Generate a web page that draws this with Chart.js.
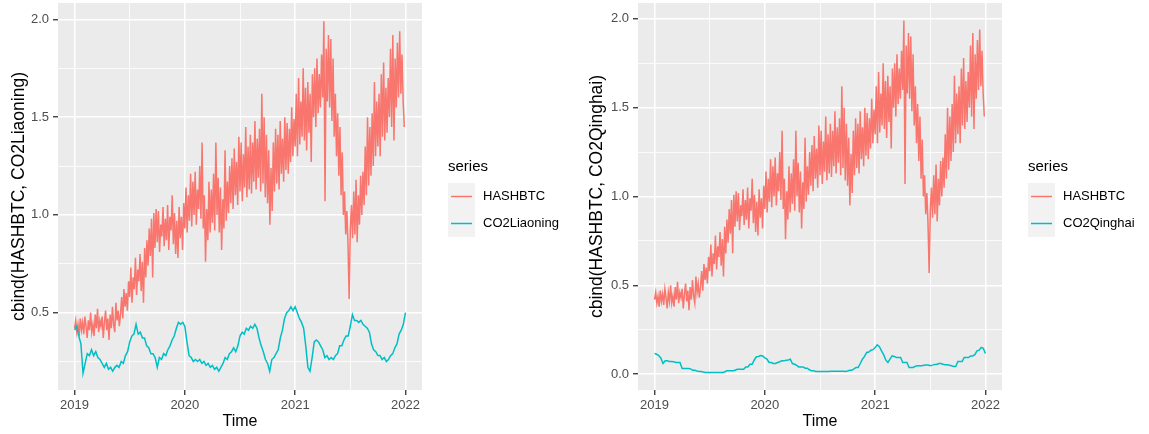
<!DOCTYPE html>
<html>
<head>
<meta charset="utf-8">
<script src="https://cdn.jsdelivr.net/npm/chart.js@4.4.1/dist/chart.umd.min.js"></script>
<style>
  html, body { margin: 0; padding: 0; background: #ffffff; overflow: hidden; }
  #wrap { position: relative; width: 1149px; height: 434px; }
  canvas { position: absolute; top: 0; }
  #left { left: 0; }
  #right { left: 574px; }
</style>
</head>
<body>
<div id="wrap">
  <canvas id="left" width="574" height="434"></canvas>
  <canvas id="right" width="575" height="434"></canvas>
</div>
<script>
// HASHBTC: 8 observations per month, Jan 2019 - Dec 2021
const hashStart = 2019;
const hashFreq = 96;
const hashbtc = [
  0.42, 0.46, 0.40, 0.44, 0.38, 0.47, 0.41, 0.45,
  0.39, 0.48, 0.43, 0.37, 0.46, 0.41, 0.50, 0.40,
  0.44, 0.38, 0.49, 0.42, 0.52, 0.40, 0.46, 0.43,
  0.48, 0.37, 0.45, 0.51, 0.41, 0.47, 0.36, 0.49,
  0.42, 0.53, 0.44, 0.40, 0.55, 0.46, 0.51, 0.43,
  0.49, 0.58, 0.47, 0.62, 0.53, 0.60, 0.51, 0.66,
  0.58, 0.73, 0.55, 0.68, 0.62, 0.78, 0.59, 0.72,
  0.66, 0.80, 0.61, 0.76, 0.55, 0.83, 0.68, 0.87,
  0.74, 0.93, 0.79, 0.98, 0.68, 1.01, 0.83, 1.03,
  0.86, 1.02, 0.81, 0.95, 0.89, 1.04, 0.84, 0.98,
  0.87, 1.05, 0.82, 0.99, 0.92, 1.10, 0.85, 1.01,
  0.80, 0.97, 0.78, 1.04, 0.88, 0.99, 0.82, 1.06,
  0.93, 1.14, 0.91, 1.10, 0.97, 1.21, 0.94, 1.17,
  1.00, 1.22, 0.95, 1.13, 1.03, 1.25, 0.98, 1.37,
  0.93, 1.10, 0.76, 1.03, 0.87, 1.17, 0.91, 1.13,
  0.96, 1.21, 0.92, 1.37, 1.00, 1.19, 0.91, 1.14,
  0.82, 1.08, 0.93, 1.33, 0.97, 1.17, 1.01, 1.25,
  1.06, 1.29, 1.03, 1.34, 1.10, 1.27, 1.05, 1.40,
  1.12, 1.37, 1.07, 1.31, 1.14, 1.45, 1.09, 1.35,
  1.13, 1.41, 1.11, 1.37, 1.17, 1.48, 1.13, 1.39,
  1.19, 1.44, 1.12, 1.62, 1.16, 1.50, 1.09, 1.41,
  1.06, 1.33, 0.95, 1.24, 1.02, 1.37, 1.12, 1.44,
  1.16, 1.41, 1.13, 1.48, 1.21, 1.39, 1.17, 1.50,
  1.23, 1.47, 1.21, 1.44, 1.27, 1.55, 1.30, 1.49,
  1.35, 1.62, 1.30, 1.70, 1.36, 1.58, 1.40, 1.75,
  1.38, 1.65, 1.33, 1.68, 1.42, 1.62, 1.27, 1.72,
  1.50, 1.75, 1.45, 1.80, 1.52, 1.72, 1.55, 1.82,
  1.60, 1.99, 1.07, 1.85, 1.58, 1.92, 1.55, 1.90,
  1.48, 1.80, 1.40, 1.62, 1.30, 1.52, 1.20, 1.45,
  1.10, 1.32, 1.00, 1.12, 0.90, 1.02, 0.85, 0.57,
  0.92, 1.05, 0.88, 1.12, 0.90, 1.18, 0.86, 1.10,
  0.95, 1.20, 1.00, 1.22, 1.05, 1.35, 1.10, 1.50,
  1.15, 1.45, 1.20, 1.52, 1.25, 1.68, 1.30, 1.58,
  1.35, 1.62, 1.30, 1.72, 1.40, 1.78, 1.38, 1.65,
  1.42, 1.70, 1.50, 1.85, 1.45, 1.92, 1.38, 1.80,
  1.55, 1.88, 1.60, 1.94, 1.62, 1.82, 1.58, 1.45
];

// Regional CO2 series: weekly, 2019.0 - 2022.0
const co2Start = 2019;
const co2Freq = 52;
const co2Liaoning = [
  0.41, 0.43, 0.38, 0.34, 0.19, 0.24, 0.29, 0.28, 0.31, 0.28, 0.30, 0.27, 0.26,
  0.24, 0.22, 0.24, 0.21, 0.22, 0.20, 0.22, 0.23, 0.22, 0.25, 0.24, 0.28, 0.30,
  0.35, 0.38, 0.39, 0.44, 0.39, 0.40, 0.37, 0.37, 0.33, 0.32, 0.29, 0.29, 0.27,
  0.22, 0.27, 0.26, 0.29, 0.28, 0.31, 0.33, 0.36, 0.38, 0.42, 0.45, 0.44, 0.45,
  0.43, 0.35, 0.28, 0.27, 0.25, 0.26, 0.25, 0.26, 0.24, 0.25, 0.23, 0.24, 0.22,
  0.23, 0.21, 0.22, 0.20, 0.22, 0.24, 0.27, 0.26, 0.29, 0.30, 0.32, 0.30, 0.33,
  0.38, 0.40, 0.39, 0.42, 0.41, 0.43, 0.42, 0.44, 0.42, 0.37, 0.33, 0.30, 0.26,
  0.24, 0.20, 0.26, 0.27, 0.29, 0.31, 0.37, 0.41, 0.47, 0.50, 0.51, 0.53, 0.51,
  0.53, 0.50, 0.47, 0.45, 0.42, 0.33, 0.22, 0.20, 0.27, 0.35, 0.36, 0.35, 0.33,
  0.31, 0.27, 0.28, 0.26, 0.27, 0.26, 0.28, 0.29, 0.33, 0.33, 0.36, 0.38, 0.38,
  0.43, 0.49, 0.46, 0.46, 0.45, 0.46, 0.44, 0.43, 0.42, 0.40, 0.34, 0.31, 0.30,
  0.28, 0.28, 0.26, 0.27, 0.25, 0.26, 0.28, 0.29, 0.32, 0.34, 0.39, 0.41, 0.44,
  0.50
];
const co2Qinghai = [
  0.116, 0.112, 0.105, 0.090, 0.060, 0.075, 0.075, 0.072, 0.071, 0.070, 0.066, 0.066, 0.066,
  0.032, 0.032, 0.032, 0.032, 0.030, 0.022, 0.022, 0.018, 0.015, 0.015, 0.012, 0.010, 0.010,
  0.009, 0.009, 0.009, 0.009, 0.010, 0.010, 0.010, 0.012, 0.019, 0.019, 0.019, 0.019, 0.022,
  0.028, 0.028, 0.028, 0.028, 0.041, 0.041, 0.056, 0.056, 0.080, 0.098, 0.100, 0.105, 0.103,
  0.092, 0.085, 0.066, 0.066, 0.060, 0.060, 0.066, 0.070, 0.075, 0.075, 0.078, 0.080, 0.084,
  0.060, 0.056, 0.050, 0.041, 0.041, 0.041, 0.034, 0.034, 0.025, 0.019, 0.019, 0.015, 0.015,
  0.015, 0.015, 0.015, 0.015, 0.015, 0.016, 0.016, 0.016, 0.016, 0.016, 0.016, 0.016, 0.015,
  0.018, 0.022, 0.022, 0.030, 0.038, 0.038, 0.060, 0.084, 0.100, 0.122, 0.125, 0.135, 0.138,
  0.150, 0.165, 0.155, 0.131, 0.110, 0.080, 0.066, 0.085, 0.103, 0.100, 0.094, 0.094, 0.094,
  0.066, 0.066, 0.066, 0.038, 0.038, 0.038, 0.045, 0.047, 0.047, 0.047, 0.050, 0.051, 0.051,
  0.048, 0.051, 0.055, 0.055, 0.060, 0.060, 0.056, 0.053, 0.053, 0.050, 0.047, 0.043, 0.043,
  0.071, 0.071, 0.071, 0.094, 0.094, 0.094, 0.103, 0.103, 0.110, 0.131, 0.135, 0.150, 0.145,
  0.116
];

const yearTicks = [2019, 2020, 2021, 2022];
const liaoningYTicks = [0.5, 1.0, 1.5, 2.0];
const qinghaiYTicks = [0.0, 0.5, 1.0, 1.5, 2.0];

const hashColor = '#F8766D';
const co2Color = '#00BFC4';
const fontFamily = '"Liberation Sans", Arial, Helvetica, sans-serif';

function toPoints(values, start, freq) {
  return values.map((v, i) => ({ x: start + i / freq, y: v }));
}

// major ticks plus ggplot-style minor breaks halfway between them
function withMinors(major) {
  const step = major[1] - major[0];
  const out = [];
  major.forEach((v, i) => {
    if (i === 0) out.push(v - step / 2);
    out.push(v);
    out.push(v + step / 2);
  });
  return out;
}
function isMajor(value, major) {
  return major.some(m => Math.abs(m - value) < 1e-9);
}

// grey panel background
const panelBg = {
  id: 'panelBg',
  beforeDraw(chart) {
    const { ctx, chartArea: a } = chart;
    ctx.save();
    ctx.fillStyle = '#EBEBEB';
    ctx.fillRect(a.left, a.top, a.right - a.left, a.bottom - a.top);
    ctx.restore();
  }
};

// legend box on the right: title, grey keys with line swatches, labels
const seriesKey = {
  id: 'seriesKey',
  afterDraw(chart, args, opts) {
    const { ctx } = chart;
    ctx.save();
    ctx.font = '15px ' + fontFamily;
    ctx.fillStyle = '#000';
    ctx.textBaseline = 'middle';
    ctx.textAlign = 'left';
    ctx.fillText(opts.title, opts.x, opts.titleY);
    opts.items.forEach((item, i) => {
      const top = opts.keyTop + i * opts.keySize;
      ctx.fillStyle = '#F2F2F2';
      ctx.fillRect(opts.x, top, opts.keySize, opts.keySize);
      ctx.strokeStyle = item.color;
      ctx.lineWidth = 1.5;
      ctx.beginPath();
      ctx.moveTo(opts.x + 3, top + opts.keySize / 2);
      ctx.lineTo(opts.x + opts.keySize - 3, top + opts.keySize / 2);
      ctx.stroke();
      ctx.fillStyle = '#000';
      ctx.font = '13px ' + fontFamily;
      ctx.fillText(item.label, opts.x + opts.keySize + 8, top + opts.keySize / 2);
    });
    ctx.restore();
  }
};

function makePanel(canvasId, co2Label, co2Values, yMajor, yMin, yMax, geom) {
  const ctx = document.getElementById(canvasId).getContext('2d');
  return new Chart(ctx, {
    type: 'line',
    data: {
      datasets: [
        {
          label: 'HASHBTC',
          data: toPoints(hashbtc, hashStart, hashFreq),
          borderColor: hashColor,
          borderWidth: 1.5,
          pointRadius: 0,
          order: 2
        },
        {
          label: co2Label,
          data: toPoints(co2Values, co2Start, co2Freq),
          borderColor: co2Color,
          borderWidth: 1.5,
          pointRadius: 0,
          order: 1
        }
      ]
    },
    options: {
      responsive: false,
      animation: false,
      devicePixelRatio: 1,
      parsing: false,
      layout: { padding: { top: 3, right: geom.padRight, bottom: 0, left: 0 } },
      plugins: {
        legend: { display: false },
        tooltip: { enabled: false },
        seriesKey: {
          title: 'series',
          x: geom.keyX,
          titleY: 167,
          keyTop: 183,
          keySize: 27,
          items: [
            { label: 'HASHBTC', color: hashColor },
            { label: co2Label, color: co2Color }
          ]
        }
      },
      scales: {
        x: {
          type: 'linear',
          min: 2018.85,
          max: 2022.15,
          afterBuildTicks(scale) {
            scale.ticks = withMinors(yearTicks).map(v => ({ value: v }));
          },
          afterFit(scale) {
            scale.height = 44;
            scale.paddingLeft = 0;
            scale.paddingRight = 0;
          },
          border: { display: false },
          grid: {
            color: '#FFFFFF',
            lineWidth: c => isMajor(c.tick.value, yearTicks) ? 1.5 : 0.8,
            tickColor: c => isMajor(c.tick.value, yearTicks) ? '#333333' : 'rgba(0,0,0,0)',
            tickWidth: 1.3,
            tickLength: 5
          },
          ticks: {
            autoSkip: false,
            maxRotation: 0,
            padding: 3,
            color: '#4D4D4D',
            font: { family: fontFamily, size: 13 },
            callback: v => isMajor(v, yearTicks) ? String(v) : ''
          },
          title: {
            display: true,
            text: 'Time',
            color: '#000000',
            font: { family: fontFamily, size: 16 },
            padding: { top: 0, bottom: 3 }
          }
        },
        y: {
          type: 'linear',
          min: yMin,
          max: yMax,
          afterBuildTicks(scale) {
            scale.ticks = withMinors(yMajor)
              .filter(v => v > yMin && v < yMax)
              .map(v => ({ value: v }));
          },
          afterFit(scale) {
            scale.width = geom.yWidth;
            scale.paddingTop = 0;
            scale.paddingBottom = 0;
          },
          border: { display: false },
          grid: {
            color: '#FFFFFF',
            lineWidth: c => isMajor(c.tick.value, yMajor) ? 1.5 : 0.8,
            tickColor: c => isMajor(c.tick.value, yMajor) ? '#333333' : 'rgba(0,0,0,0)',
            tickWidth: 1.3,
            tickLength: 5
          },
          ticks: {
            autoSkip: false,
            padding: 4,
            color: '#4D4D4D',
            font: { family: fontFamily, size: 13 },
            callback: v => isMajor(v, yMajor) ? v.toFixed(1) : ''
          },
          title: {
            display: true,
            text: 'cbind(HASHBTC, ' + co2Label + ')',
            color: '#000000',
            font: { family: fontFamily, size: 17.5 },
            padding: { top: geom.yTitlePad, bottom: 0 }
          }
        }
      }
    },
    plugins: [panelBg, seriesKey]
  });
}

makePanel('left', 'CO2Liaoning', co2Liaoning, liaoningYTicks, 0.104, 2.084,
  { padRight: 152, yWidth: 58, keyX: 448, yTitlePad: 9 });
makePanel('right', 'CO2Qinghai', co2Qinghai, qinghaiYTicks, -0.089, 2.089,
  { padRight: 147, yWidth: 64, keyX: 454, yTitlePad: 13 });
</script>
</body>
</html>
